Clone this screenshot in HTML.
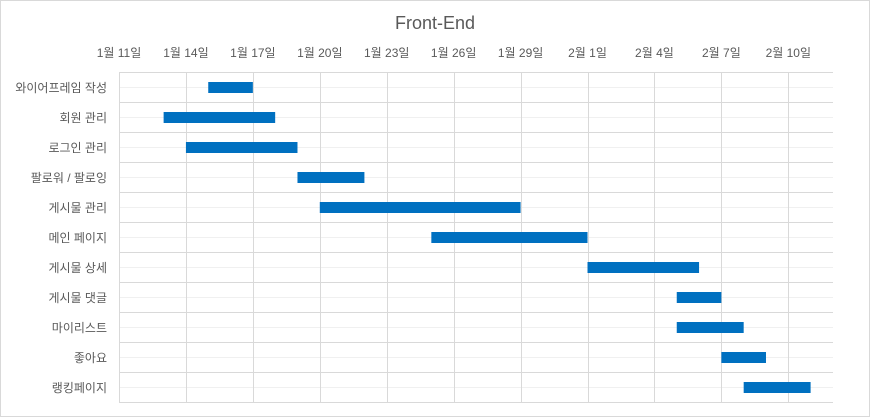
<!DOCTYPE html>
<html><head><meta charset="utf-8"><style>
html,body{margin:0;padding:0;background:#fff;}
svg{display:block;font-family:"Liberation Sans","Noto Sans CJK KR",sans-serif;}
</style></head><body>
<svg id="chart" width="870" height="417">
<rect x="0.5" y="0.5" width="869" height="416" fill="#fff" stroke="#d9d9d9"/>
<text x="435" y="29" text-anchor="middle" font-size="18" fill="#595959">Front-End</text>
<g id="grid"></g><g id="bars"></g><g id="xlabels"></g><g id="ylabels"></g>
</svg>
<script>
const tasks=["와이어프레임 작성","회원 관리","로그인 관리","팔로워 / 팔로잉","게시물 관리","메인 페이지","게시물 상세","게시물 댓글","마이리스트","좋아요","랭킹페이지"];
const startDays=[4,2,3,8,9,14,21,25,25,27,28];
const durations=[2,5,5,3,9,7,5,2,3,2,3];
const tickLabels=["1월 11일","1월 14일","1월 17일","1월 20일","1월 23일","1월 26일","1월 29일","2월 1일","2월 4일","2월 7일","2월 10일"];
const tickDays=[0,3,6,9,12,15,18,21,24,27,30];
const NS="http://www.w3.org/2000/svg";
const X0=119,PX=22.31,Y0=72,RH=30,RIGHT=833;
const x=d=>X0+d*PX, y=i=>Y0+i*RH;
function mk(tag,attrs,parent){const e=document.createElementNS(NS,tag);for(const k in attrs)e.setAttribute(k,attrs[k]);document.getElementById(parent).appendChild(e);return e;}
for(let i=0;i<=tasks.length;i++){
  const l=mk('line',{x1:X0,x2:RIGHT,y1:y(i)+0.5,y2:y(i)+0.5,stroke:'#d9d9d9'},'grid');
  
  
  if(i<tasks.length){
    const m=mk('line',{x1:X0,x2:RIGHT,y1:y(i)+15.5,y2:y(i)+15.5,stroke:'#f0f0f0'},'grid');
    
    
  }
}
tickDays.forEach((d,i)=>{
  const g=mk('line',{x1:Math.round(x(d))+0.5,x2:Math.round(x(d))+0.5,y1:Y0,y2:y(tasks.length),stroke:'#d9d9d9'},'grid');
  
  
  const t=mk('text',{x:x(d),y:57,'text-anchor':'middle','font-size':12,fill:'#595959'},'xlabels');
  t.textContent=tickLabels[i];
  
  
});
tasks.forEach((name,i)=>{
  const t=mk('text',{x:107,y:y(i)+20,'text-anchor':'end','font-size':12,fill:'#595959'},'ylabels');
  t.textContent=name;
  
  
  const b=mk('rect',{x:x(startDays[i]),y:y(i)+10,width:durations[i]*PX,height:11,fill:'#0070c0'},'bars');
  
  
});
</script>
</body></html>
